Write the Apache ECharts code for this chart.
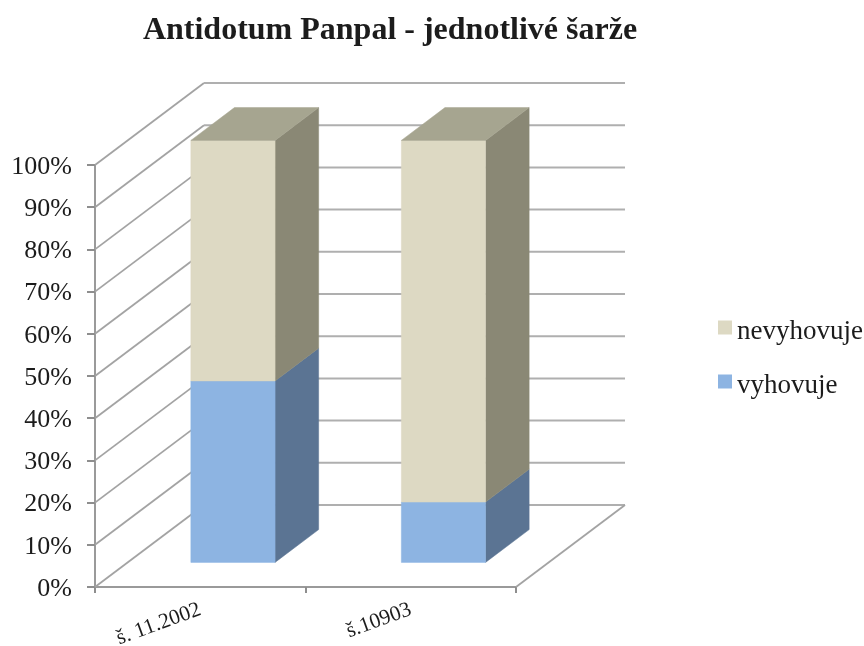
<!DOCTYPE html>
<html>
<head>
<meta charset="utf-8">
<style>html,body{margin:0;padding:0;background:#fff}#c{width:864px;height:646px}</style>
<script src="https://cdn.jsdelivr.net/npm/echarts@6/dist/echarts.min.js"></script>
</head>
<body>
<div id="c"></div>
<script>
var categories = ['š. 11.2002', 'š.10903'];
var vyhovuje = [43, 14.3];
var nevyhovuje = [57, 85.7];
var yTicks = [0, 10, 20, 30, 40, 50, 60, 70, 80, 90, 100];

var FONT = '"Liberation Serif","Times New Roman",serif';
var TEXT = '#1c1c1c';
var DEPTH_X = 109, DEPTH_Y = -82;       // wall depth projection
var BAR_NEAR = 0.3, BAR_FAR = 0.7;      // bar position inside the depth
var BAR_WIDTH = 0.4;                    // share of the category band
var COLORS = {
  vyhovuje: {front: '#8DB4E2', side: '#5B7493', top: '#7F9DC0'},
  nevyhovuje: {front: '#DDD9C3', side: '#8A8875', top: '#A6A590'}
};

function poly(pts, fill) {
  return {type: 'polygon', shape: {points: pts}, style: {fill: fill, stroke: fill, lineWidth: 0.5}};
}
function barRenderer(col, isTop) {
  return function (params, api) {
    var i = api.value(0);
    var p0 = api.coord([i, api.value(1)]);
    var p1 = api.coord([i, api.value(2)]);
    var w = api.size([1, 0])[0] * BAR_WIDTH;
    var nx = DEPTH_X * BAR_NEAR, ny = DEPTH_Y * BAR_NEAR;
    var fx = DEPTH_X * BAR_FAR, fy = DEPTH_Y * BAR_FAR;
    var l = p0[0] - w / 2 + nx, r = l + w;
    var b = p0[1] + ny, t = p1[1] + ny;
    var ddx = fx - nx, ddy = fy - ny;
    var kids = [
      poly([[r, b], [r + ddx, b + ddy], [r + ddx, t + ddy], [r, t]], col.side),
      poly([[l, b], [r, b], [r, t], [l, t]], col.front)
    ];
    if (isTop) {
      kids.push(poly([[l, t], [r, t], [r + ddx, t + ddy], [l + ddx, t + ddy]], col.top));
    }
    return {type: 'group', children: kids};
  };
}
function wallRenderer(params, api) {
  var cs = params.coordSys;
  var v = api.value(1);
  var y = api.coord([0, v])[1];
  var x0 = cs.x, x1 = cs.x + cs.width;
  var kids = [
    {type: 'line', shape: {x1: x0, y1: y, x2: x0 + DEPTH_X, y2: y + DEPTH_Y}, style: {stroke: '#A3A3A3', lineWidth: 1.8}},
    {type: 'line', shape: {x1: x0 + DEPTH_X, y1: y + DEPTH_Y, x2: x1 + DEPTH_X, y2: y + DEPTH_Y}, style: {stroke: '#AFAFAF', lineWidth: 2}}
  ];
  if (v === 0) {
    kids.push({type: 'line', shape: {x1: x1, y1: y, x2: x1 + DEPTH_X, y2: y + DEPTH_Y}, style: {stroke: '#A3A3A3', lineWidth: 1.8}});
  }
  return {type: 'group', children: kids};
}
var baseV = vyhovuje.map(function (v, i) { return [i, 0, v]; });
var baseN = nevyhovuje.map(function (v, i) { return [i, vyhovuje[i], vyhovuje[i] + v]; });

var chart = echarts.init(document.getElementById('c'), null, {renderer: 'canvas'});
chart.setOption({
  animation: false,
  backgroundColor: '#fff',
  title: {
    text: 'Antidotum Panpal - jednotlivé šarže',
    left: 385, top: 10, textAlign: 'center',
    textStyle: {fontFamily: FONT, fontWeight: 'bold', fontSize: 32, color: TEXT}
  },
  legend: {
    orient: 'vertical', left: 718, top: 318,
    itemWidth: 14, itemHeight: 14, itemGap: 27,
    icon: 'rect', selectedMode: false,
    data: ['nevyhovuje', 'vyhovuje'],
    formatter: '{a|{name}}',
    textStyle: {fontFamily: FONT, fontSize: 27, color: TEXT, rich: {a: {fontFamily: FONT, fontSize: 27, color: TEXT, padding: [8, 0, 0, 0]}}},
    padding: 0
  },
  grid: {left: 95, right: 348, top: 165, bottom: 59, outerBoundsMode: 'none'},
  xAxis: {
    type: 'category', data: categories,
    axisLine: {lineStyle: {color: '#9A9A9A', width: 2}},
    axisTick: {show: true, alignWithLabel: false, length: 6, lineStyle: {color: '#8E8E8E', width: 2}},
    axisLabel: {rotate: 20, margin: 22, fontFamily: FONT, fontSize: 21.5, color: TEXT, interval: 0},
    splitLine: {show: false}
  },
  yAxis: {
    type: 'value', min: 0, max: 100, interval: 10,
    axisLine: {show: true, lineStyle: {color: '#9A9A9A', width: 2}},
    axisTick: {show: true, length: 8, lineStyle: {color: '#8E8E8E', width: 2}},
    axisLabel: {
      formatter: '{a|{value}%}', margin: 23, fontFamily: FONT, fontSize: 26, color: TEXT,
      rich: {a: {fontFamily: FONT, fontSize: 26, color: TEXT, padding: [4, 0, 0, 0]}}
    },
    splitLine: {show: false}
  },
  series: [
    {
      type: 'custom', name: 'walls', silent: true, z: 1, clip: false,
      renderItem: wallRenderer,
      encode: {x: 0, y: 1},
      data: yTicks.map(function (t) { return [0, t]; })
    },
    {
      type: 'custom', name: 'vyhovuje', z: 3, clip: false, silent: true,
      itemStyle: {color: COLORS.vyhovuje.front},
      renderItem: barRenderer(COLORS.vyhovuje, false),
      encode: {x: 0, y: [1, 2]},
      data: baseV
    },
    {
      type: 'custom', name: 'nevyhovuje', z: 4, clip: false, silent: true,
      itemStyle: {color: COLORS.nevyhovuje.front},
      renderItem: barRenderer(COLORS.nevyhovuje, true),
      encode: {x: 0, y: [1, 2]},
      data: baseN
    }
  ]
});
</script>
</body>
</html>
